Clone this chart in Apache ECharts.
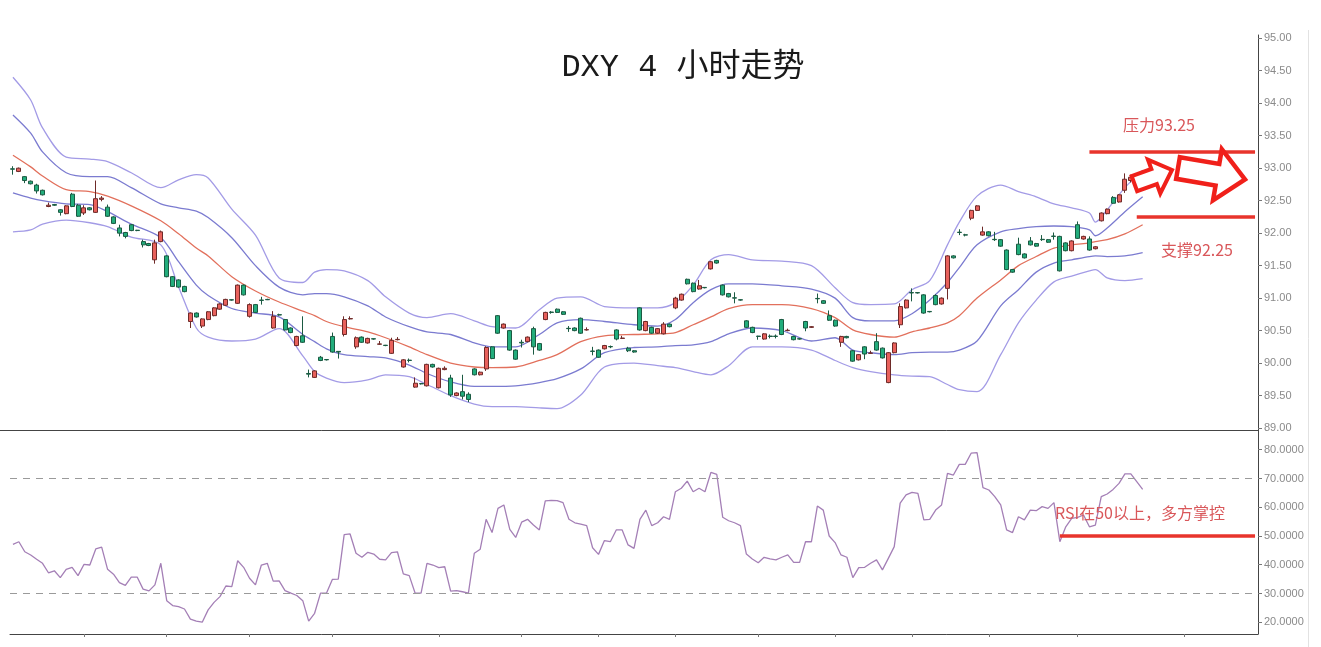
<!DOCTYPE html>
<html><head><meta charset="utf-8">
<script src="https://cdn.jsdelivr.net/npm/echarts@6/dist/echarts.min.js"></script>
<style>html,body{margin:0;padding:0;background:#fff}#c{width:1321px;height:647px}</style>
</head><body><div id="c"></div>
<script>
// [open, close, low, high]
const candles = [
[92.99,92.985,92.90,93.03],[92.95,93.00,92.94,93.01],[92.87,92.81,92.77,92.88],[92.80,92.76,92.75,92.81],[92.74,92.65,92.61,92.76],
[92.66,92.59,92.58,92.67],[92.41,92.43,92.40,92.47],[92.44,92.43,92.42,92.45],[92.36,92.32,92.27,92.37],[92.30,92.42,92.29,92.43],
[92.60,92.41,92.40,92.62],[92.43,92.26,92.25,92.45],[92.31,92.39,92.28,92.43],[92.39,92.36,92.35,92.40],[92.32,92.53,92.31,92.81],
[92.52,92.54,92.49,92.57],[92.40,92.26,92.25,92.44],[92.25,92.15,92.14,92.26],[92.08,92.00,91.95,92.13],[92.01,91.95,91.92,92.02],
[92.13,92.04,92.03,92.14],[92.045,92.04,92.03,92.05],[91.87,91.82,91.78,91.90],[91.84,91.81,91.80,91.85],[91.59,91.85,91.53,91.90],
[91.87,92.02,91.86,92.04],[91.65,91.33,91.32,91.66],[91.33,91.18,91.17,91.34],[91.28,91.17,91.16,91.29],[91.18,91.10,91.09,91.19],
[90.64,90.77,90.54,90.78],[90.77,90.71,90.70,90.78],[90.57,90.68,90.54,90.69],[90.67,90.79,90.66,90.80],[90.73,90.85,90.72,90.86],
[90.83,90.91,90.82,90.92],[90.89,90.98,90.88,90.99],[90.975,90.97,90.96,90.98],[90.92,91.20,90.91,91.21],[91.20,91.05,91.04,91.21],
[90.72,90.90,90.70,90.92],[90.90,90.78,90.77,90.91],[90.97,90.965,90.90,91.02],[90.98,90.975,90.97,90.99],[90.54,90.72,90.53,90.80],
[90.745,90.74,90.73,90.76],[90.67,90.51,90.50,90.68],[90.54,90.47,90.46,90.55],[90.27,90.41,90.26,90.42],[90.42,90.32,90.31,90.72],
[89.84,89.83,89.78,89.90],[89.78,89.88,89.77,89.89],[90.09,90.04,90.03,90.11],[90.055,90.05,90.04,90.06],[90.41,90.17,90.16,90.47],
[90.18,90.17,90.07,90.18],[90.44,90.67,90.41,90.72],[90.68,90.685,90.67,90.72],[90.25,90.39,90.22,90.41],[90.40,90.32,90.31,90.41],
[90.31,90.38,90.30,90.39],[90.375,90.37,90.36,90.38],[90.29,90.295,90.28,90.34],[90.275,90.27,90.26,90.28],[90.15,90.35,90.14,90.39],
[90.36,90.365,90.35,90.40],[89.94,90.05,89.93,90.06],[90.045,90.04,90.01,90.07],[89.63,89.69,89.62,89.78],[89.685,89.68,89.67,89.69],
[89.65,89.98,89.64,89.99],[89.98,89.94,89.93,89.99],[89.62,89.92,89.61,89.93],[89.90,89.92,89.89,89.95],[89.77,89.51,89.48,89.82],
[89.50,89.54,89.49,89.55],[89.56,89.49,89.44,89.82],[89.52,89.44,89.40,89.55],[89.91,89.82,89.81,89.92],[89.82,89.86,89.81,89.87],
[89.91,90.24,89.88,90.26],[90.25,90.07,90.06,90.26],[90.73,90.46,90.45,90.74],[90.54,90.60,90.53,90.61],[90.50,90.20,90.19,90.51],
[90.20,90.06,90.05,90.21],[90.32,90.31,90.24,90.36],[90.33,90.40,90.32,90.41],[90.53,90.25,90.13,90.56],[90.30,90.20,90.19,90.31],
[90.67,90.78,90.66,90.79],[90.785,90.78,90.76,90.80],[90.83,90.78,90.77,90.84],[90.79,90.75,90.74,90.80],[90.535,90.53,90.48,90.57],
[90.54,90.50,90.49,90.55],[90.69,90.46,90.45,90.70],[90.51,90.515,90.50,90.55],[90.185,90.18,90.12,90.25],[90.20,90.09,90.08,90.21],
[90.22,90.27,90.21,90.28],[90.255,90.25,90.23,90.27],[90.51,90.37,90.35,90.52],[90.38,90.385,90.37,90.42],[90.23,90.19,90.17,90.25],
[90.19,90.17,90.16,90.20],[90.85,90.51,90.50,90.86],[90.50,90.64,90.49,90.65],[90.55,90.46,90.45,90.56],[90.46,90.53,90.45,90.54],
[90.45,90.60,90.44,90.63],[90.60,90.56,90.55,90.61],[90.85,91.00,90.83,91.02],[90.97,91.06,90.96,91.07],[91.29,91.22,91.21,91.30],
[91.23,91.10,91.09,91.24],[91.14,91.19,91.13,91.28],[91.165,91.16,91.15,91.17],[91.45,91.56,91.44,91.57],[91.58,91.54,91.53,91.59],
[91.20,91.05,91.04,91.21],[91.07,91.02,91.01,91.08],[91.005,91.00,90.92,91.09],[90.975,90.97,90.96,90.98],[90.65,90.55,90.54,90.66],
[90.55,90.47,90.46,90.56],[90.415,90.41,90.36,90.42],[90.37,90.45,90.36,90.46],[90.415,90.41,90.38,90.44],[90.415,90.41,90.38,90.44],
[90.67,90.44,90.43,90.68],[90.50,90.505,90.49,90.53],[90.41,90.36,90.35,90.42],[90.375,90.37,90.36,90.38],[90.64,90.54,90.49,90.65],
[90.55,90.56,90.54,90.57],[90.995,90.99,90.92,91.07],[90.96,90.92,90.91,90.97],[90.73,90.66,90.65,90.81],[90.66,90.57,90.56,90.67],
[90.32,90.41,90.25,90.42],[90.41,90.39,90.38,90.42],[90.19,90.03,90.02,90.20],[90.05,90.13,90.04,90.14],[90.25,90.14,90.06,90.26],
[90.15,90.155,90.14,90.19],[90.33,90.20,90.19,90.46],[90.23,90.08,90.07,90.24],[89.70,90.16,89.69,90.17],[90.16,90.31,90.15,90.32],
[90.59,90.87,90.54,90.92],[90.85,90.97,90.84,90.98],[91.085,91.08,90.95,91.15],[91.085,91.08,91.07,91.09],[91.05,90.77,90.76,91.06],
[90.795,90.79,90.78,90.80],[91.04,90.90,90.89,91.06],[90.91,91.00,90.90,91.01],[91.15,91.65,90.98,91.66],[91.65,91.62,91.61,91.66],
[92.015,92.01,91.97,92.06],[91.975,91.97,91.95,91.99],[92.23,92.35,92.20,92.36],[92.35,92.42,92.34,92.43],[91.97,92.02,91.96,92.10],
[92.02,91.96,91.95,92.03],[91.905,91.90,91.88,92.02],[91.90,91.80,91.79,91.91],[91.74,91.44,91.43,91.75],[91.44,91.40,91.39,91.45],
[91.83,91.67,91.66,91.93],[91.68,91.62,91.61,91.69],[91.88,91.82,91.81,91.94],[91.84,91.80,91.79,91.85],[91.905,91.90,91.88,91.97],
[91.90,91.86,91.85,91.91],[91.955,91.95,91.90,92.01],[91.95,91.42,91.41,91.96],[91.85,91.73,91.72,91.86],[91.73,91.88,91.72,91.89],
[92.13,91.92,91.91,92.18],[91.91,91.95,91.90,91.96],[91.91,91.74,91.73,91.95],[91.76,91.79,91.75,91.80],[92.19,92.31,92.18,92.32],
[92.30,92.37,92.29,92.38],[92.55,92.46,92.45,92.57],[92.48,92.59,92.47,92.60],[92.66,92.83,92.62,92.92],[92.81,92.86,92.78,92.90]
];

const rsi = [
47.1,48.0,44.5,43.4,41.9,40.5,37.2,37.9,35.5,38.4,
39.1,36.2,40.1,39.9,45.5,46.1,38.4,36.7,33.8,32.8,
35.7,35.7,31.5,30.9,33.0,40.5,27.5,25.8,25.4,24.6,
21.1,20.4,20.0,24.3,26.9,28.9,32.6,32.4,41.4,39.1,
35.3,33.0,39.9,40.5,34.3,34.4,31.0,30.1,29.3,27.5,
20.4,23.1,30.1,30.1,34.9,35.0,50.5,50.7,44.0,42.6,
44.3,43.7,41.9,41.7,44.2,44.5,36.8,36.2,30.1,30.1,
40.5,39.9,39.0,39.3,30.8,31.0,30.6,30.1,44.0,45.4,
55.8,51.2,59.6,60.8,52.3,49.5,54.8,55.8,53.8,52.1,
62.2,62.4,62.3,61.6,55.8,54.6,54.1,53.6,45.9,43.6,
48.4,48.0,52.1,52.1,46.9,45.7,55.8,59.0,53.6,54.6,
56.7,55.8,65.4,66.6,69.1,65.4,66.6,65.4,72.1,71.4,
56.5,55.3,54.6,53.6,43.7,42.0,40.7,42.6,42.0,41.7,
42.6,43.4,40.8,40.8,48.0,48.0,60.4,59.0,50.0,47.7,
43.4,42.6,35.5,39.0,39.1,40.5,41.7,38.2,42.2,46.3,
61.4,64.3,65.2,64.8,55.6,55.8,59.0,60.8,71.8,71.2,
74.9,74.9,78.8,79.0,66.8,66.0,63.7,60.8,52.1,51.2,
56.7,55.6,59.0,58.8,60.2,59.6,61.6,48.0,53.2,56.1,
56.5,57.3,53.2,53.8,63.7,64.6,66.2,68.3,71.6,71.6,
68.9,66.2
];

// Bollinger band points read at these bar indices
const bandIdx = [0,3,5,9,13,16,20,25,28,31,33,37,41,45,49,51,53,56,60,63,67,70,74,78,81,85,89,92,96,100,105,109,112,115,118,121,125,130,135,139,142,145,149,152,155,158,160,163,167,170,173,176,179,182,183,185,188,191];
const bandUpper2 = [94.40,94.05,93.62,93.17,93.14,93.10,92.93,92.70,92.82,92.90,92.85,92.37,91.97,91.31,91.24,91.40,91.44,91.42,91.27,91.02,90.77,90.70,90.76,90.65,90.56,90.54,90.82,91.00,91.02,90.87,90.85,90.85,90.93,91.20,91.59,91.67,91.59,91.57,91.50,91.16,90.93,90.90,90.91,91.13,91.27,91.82,92.17,92.57,92.74,92.64,92.56,92.45,92.39,92.31,92.17,92.36,92.70,92.97];
const bandUpper1 = [93.82,93.54,93.25,92.93,92.87,92.87,92.70,92.45,92.39,92.34,92.24,91.93,91.50,91.17,91.05,91.07,91.07,91.02,90.88,90.71,90.56,90.48,90.44,90.31,90.25,90.25,90.44,90.62,90.67,90.64,90.59,90.57,90.67,90.93,91.13,91.22,91.22,91.19,91.14,91.00,90.70,90.65,90.65,90.76,90.97,91.24,91.47,91.82,92.02,92.07,92.10,92.11,92.10,92.05,91.96,92.08,92.33,92.56];
const bandMid = [93.20,93.02,92.88,92.67,92.64,92.57,92.42,92.19,91.99,91.77,91.65,91.33,91.11,90.94,90.80,90.73,90.64,90.56,90.48,90.39,90.25,90.13,90.00,89.94,89.93,89.94,90.04,90.13,90.33,90.42,90.44,90.45,90.47,90.59,90.71,90.84,90.90,90.90,90.84,90.70,90.51,90.44,90.40,90.48,90.54,90.62,90.73,91.00,91.28,91.50,91.64,91.77,91.82,91.85,91.87,91.90,91.99,92.13];
const bandLower1 = [92.62,92.54,92.50,92.45,92.44,92.33,92.14,91.93,91.56,91.20,91.04,90.84,90.77,90.71,90.44,90.33,90.22,90.13,90.10,90.08,89.97,89.84,89.71,89.64,89.64,89.65,89.70,89.76,89.91,90.16,90.24,90.25,90.27,90.28,90.33,90.45,90.54,90.50,90.34,90.39,90.20,90.16,90.13,90.16,90.17,90.17,90.20,90.34,90.88,91.13,91.40,91.54,91.59,91.64,91.65,91.64,91.65,91.70];
const bandLower2 = [92.02,92.05,92.14,92.20,92.16,92.10,91.94,91.82,91.17,90.54,90.40,90.34,90.37,90.53,90.11,89.87,89.77,89.70,89.74,89.82,89.79,89.67,89.50,89.37,89.33,89.33,89.31,89.30,89.51,89.94,90.00,89.96,89.93,89.87,89.82,89.96,90.25,90.25,90.20,90.04,89.93,89.87,89.82,89.80,89.79,89.67,89.59,89.56,90.13,90.62,90.97,91.25,91.34,91.42,91.44,91.31,91.27,91.30];

const priceTicks = [89,89.5,90,90.5,91,91.5,92,92.5,93,93.5,94,94.5,95];
const rsiTicks = [20,30,40,50,60,70,80];
const xTickIdx = [12,26,40,54,72,86,99,112,126,139,152,165,180,198];
const resistance = 93.25, support = 92.25, rsiMid = 50, rsiHigh = 70, rsiLow = 30;
const titleText = 'DXY 4 小时走势';
const resText = '压力93.25', supText = '支撑92.25', rsiText = 'RSI在50以上，多方掌控';

const SLOTS = 211;
const cats = Array.from({length: SLOTS}, (_, i) => String(i));
const pairs = arr => bandIdx.map((x, k) => [x, arr[k]]);

const chart = echarts.init(document.getElementById('c'), null, {renderer: 'canvas'});
const axisLbl = {color: '#8a8a8a', fontSize: 11, fontFamily: 'Liberation Sans, Arial, sans-serif', margin: 6};
const RED = '#e8342c';

function bandSeries(data, color) {
  return {type: 'line', xAxisIndex: 0, yAxisIndex: 0, data: pairs(data), symbol: 'none', smooth: 0.3,
    lineStyle: {color: color, width: 1.3}, z: 1, silent: true};
}

function arrow(len, shaftH, headH, headLen) {
  const b = len - headLen;
  return [[0,-shaftH],[b,-shaftH],[b,-headH],[len,0],[b,headH],[b,shaftH],[0,shaftH]];
}

chart.setOption({
  animation: false,
  backgroundColor: '#fff',
  grid: [
    {left: 10, right: 63, top: 35, height: 395, containLabel: false, outerBoundsMode: 'none'},
    {left: 10, right: 63, top: 430, height: 204, containLabel: false, outerBoundsMode: 'none'}
  ],
  xAxis: [
    {type: 'category', gridIndex: 0, data: cats, boundaryGap: true,
     axisLine: {show: true, lineStyle: {color: '#444', width: 1}}, axisTick: {show: false}, axisLabel: {show: false}, splitLine: {show: false}},
    {type: 'category', gridIndex: 1, data: cats, boundaryGap: true,
     axisLine: {show: true, lineStyle: {color: '#444', width: 1}},
     axisTick: {show: true, alignWithLabel: true, length: 3, interval: (i) => xTickIdx.indexOf(i) >= 0, lineStyle: {color: '#777'}},
     axisLabel: {show: false}, splitLine: {show: false}}
  ],
  yAxis: [
    {type: 'value', gridIndex: 0, position: 'right', min: 88.97, max: 95.05, scale: true,
     splitLine: {show: false}, axisLine: {show: true, lineStyle: {color: '#444'}},
     axisTick: {show: true, length: 4, customValues: priceTicks, lineStyle: {color: '#777'}},
     axisLabel: Object.assign({customValues: priceTicks, formatter: v => v.toFixed(2)}, axisLbl)},
    {type: 'value', gridIndex: 1, position: 'right', min: 15.9, max: 86.87, scale: true,
     splitLine: {show: false}, axisLine: {show: true, lineStyle: {color: '#444'}},
     axisTick: {show: true, length: 4, customValues: rsiTicks, lineStyle: {color: '#777'}},
     axisLabel: Object.assign({customValues: rsiTicks, formatter: v => v.toFixed(4)}, axisLbl)}
  ],
  series: [
    bandSeries(bandUpper2, '#a39be6'),
    bandSeries(bandUpper1, '#7b7bd0'),
    bandSeries(bandMid, '#e2705c'),
    bandSeries(bandLower1, '#7b7bd0'),
    bandSeries(bandLower2, '#a39be6'),
    {type: 'candlestick', xAxisIndex: 0, yAxisIndex: 0, data: candles, barWidth: 4.5, z: 3,
     itemStyle: {color: '#e8615c', color0: '#22ad7c', borderColor: '#6e2a28', borderColor0: '#1b5a42', borderWidth: 1},
     markLine: {silent: true, symbol: 'none', label: {show: false},
       lineStyle: {color: RED, width: 3.5, type: 'solid'},
       data: [
         [{coord: ['182', resistance]}, {coord: ['210', resistance]}],
         [{coord: ['190', support]}, {coord: ['210', support]}]
       ]}},
    {type: 'line', xAxisIndex: 1, yAxisIndex: 1, data: rsi, symbol: 'none', smooth: false,
     lineStyle: {color: '#a47fb6', width: 1.3}, z: 3,
     markLine: {silent: true, symbol: 'none', label: {show: false},
       data: [
         {yAxis: rsiHigh, lineStyle: {color: '#9a9a9a', width: 1, type: [7, 6]}},
         {yAxis: rsiLow, lineStyle: {color: '#9a9a9a', width: 1, type: [7, 6]}},
         [{coord: ['177', rsiMid], lineStyle: {color: RED, width: 3.5, type: 'solid'}}, {coord: ['210', rsiMid]}]
       ]}}
  ],
  graphic: [
    {type: 'line', z: 100, shape: {x1: 0, y1: 430.5, x2: 10, y2: 430.5}, style: {stroke: '#444', lineWidth: 1}},
    {type: 'text', z: 100, style: {text: titleText, x: 683, y: 68, textAlign: 'center', textVerticalAlign: 'middle',
      fill: '#1a1a1a', font: '32px "Liberation Mono", "Noto Sans CJK SC", monospace'}},
    {type: 'text', z: 100, style: {text: resText, x: 1159, y: 125, textAlign: 'center', textVerticalAlign: 'middle',
      fill: '#d9575a', font: '16px "Noto Sans CJK SC", sans-serif'}},
    {type: 'text', z: 100, style: {text: supText, x: 1197, y: 250, textAlign: 'center', textVerticalAlign: 'middle',
      fill: '#d9575a', font: '16px "Noto Sans CJK SC", sans-serif'}},
    {type: 'text', z: 100, style: {text: rsiText, x: 1140, y: 513, textAlign: 'center', textVerticalAlign: 'middle',
      fill: '#d9575a', font: '16px "Noto Sans CJK SC", sans-serif'}},
    {type: 'polygon', z: 100, x: 1134.4, y: 183.7, rotation: 0.35,
      shape: {points: arrow(40, 8, 18, 19)}, style: {fill: '#fff', stroke: '#f0201a', lineWidth: 4, lineJoin: 'miter'}},
    {type: 'polygon', z: 100, x: 1178, y: 168, rotation: -0.17,
      shape: {points: arrow(68, 11, 26, 28)}, style: {fill: '#fff', stroke: '#f0201a', lineWidth: 4.5, lineJoin: 'miter'}},
    {type: 'line', z: 100, shape: {x1: 1308.5, y1: 30, x2: 1308.5, y2: 647}, style: {stroke: '#e2e2e2', lineWidth: 1}}
  ]
});
</script>
</body></html>
